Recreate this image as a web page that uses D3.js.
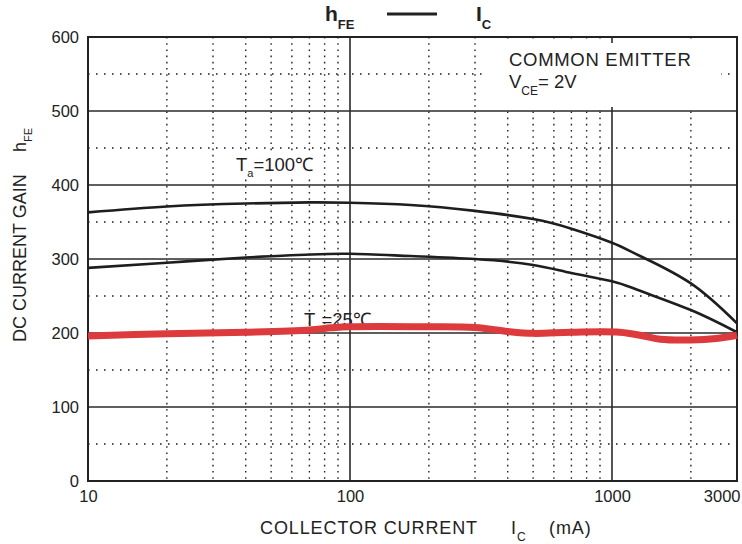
<!DOCTYPE html>
<html>
<head>
<meta charset="utf-8">
<script src="https://cdn.jsdelivr.net/npm/d3@7"></script>
<style>
  body { margin: 0; background: #fff; }
  svg text { font-family: "Liberation Sans", Arial, sans-serif; fill: #222; }
</style>
</head>
<body>
<svg id="chart" width="742" height="544"></svg>
<script>
// hFE vs IC
const xTicks = [10, 100, 1000, 3000];
const yTicks = [0, 100, 200, 300, 400, 500, 600];
const xMajor = [100, 1000];
const xMinor = [20, 30, 40, 50, 60, 70, 80, 90, 200, 300, 400, 500, 600, 700, 800, 900, 2000];
const yMajor = [100, 200, 300, 400, 500];
const yMinor = [50, 150, 250, 350, 450, 550];

// Ta = 100 C
const ic100 = [10, 20, 40, 70, 100, 170, 300, 500, 700, 1000, 1280, 2000, 3000];
const hfe100 = [363, 371, 375, 376.5, 376, 373, 365, 354, 341, 322, 304, 267, 213];

// middle curve (unlabelled)
const icMid = [10, 20, 40, 70, 100, 170, 300, 500, 700, 1000, 1280, 2000, 3000];
const hfeMid = [288, 295, 302, 306, 307, 304, 300, 292, 281, 270, 257, 231, 201];

// Ta = 25 C (red)
const ic25 = [10, 20, 40, 70, 85, 100, 200, 300, 400, 500, 700, 1070, 1320, 1530, 2000, 2500, 3000];
const hfe25 = [196, 199, 201, 204, 207, 208.5, 208.5, 207.5, 202, 199.5, 201, 201, 196, 191.5, 190.5, 192.5, 197];

const margin = { left: 88, top: 37, right: 5, bottom: 63 };
const W = 742, H = 544;

const svg = d3.select('#chart');

const x = d3.scaleLog().domain([10, 3000]).range([margin.left, W - margin.right]);
const y = d3.scaleLinear().domain([0, 600]).range([H - margin.bottom, margin.top]);

const plot = svg.append('g').attr('class', 'plot');

// dotted minor grid
plot.selectAll('line.vminor')
    .data(xMinor)
    .enter()
    .append('line')
    .attr('class', 'vminor')
    .attr('x1', d => x(d)).attr('x2', d => x(d))
    .attr('y1', y(600)).attr('y2', y(0))
    .attr('stroke', '#222')
    .attr('stroke-width', 1.4)
    .attr('stroke-dasharray', '1.6,4.6');

plot.selectAll('line.hminor')
    .data(yMinor)
    .enter()
    .append('line')
    .attr('class', 'hminor')
    .attr('x1', x(10)).attr('x2', x(3000))
    .attr('y1', d => y(d)).attr('y2', d => y(d))
    .attr('stroke', '#222')
    .attr('stroke-width', 1.4)
    .attr('stroke-dasharray', '1.6,6.4');

// solid major grid
plot.selectAll('line.vmajor')
    .data(xMajor)
    .enter()
    .append('line')
    .attr('class', 'vmajor')
    .attr('x1', d => x(d)).attr('x2', d => x(d))
    .attr('y1', y(600)).attr('y2', y(0))
    .attr('stroke', '#2a2a2a')
    .attr('stroke-width', 1.6);

plot.selectAll('line.hmajor')
    .data(yMajor)
    .enter()
    .append('line')
    .attr('class', 'hmajor')
    .attr('x1', x(10)).attr('x2', x(3000))
    .attr('y1', d => y(d)).attr('y2', d => y(d))
    .attr('stroke', '#2a2a2a')
    .attr('stroke-width', 1.6);

// white boxes that hide the grid behind the notes
plot.append('rect')
    .attr('x', 488).attr('y', 43).attr('width', 233).attr('height', 64)
    .attr('fill', '#fff');
plot.append('rect')
    .attr('x', 232).attr('y', 151).attr('width', 90).attr('height', 25)
    .attr('fill', '#fff');

// frame
plot.append('rect')
    .attr('x', x(10)).attr('y', y(600))
    .attr('width', x(3000) - x(10)).attr('height', y(0) - y(600))
    .attr('fill', 'none')
    .attr('stroke', '#222')
    .attr('stroke-width', 2);

// axes (labels only)
const yAxis = svg.append('g')
    .attr('transform', `translate(${margin.left - 9},0)`)
    .call(d3.axisLeft(y).tickValues(yTicks).tickSize(0).tickPadding(0));
yAxis.select('.domain').remove();
yAxis.selectAll('text')
    .style('font-size', '16.5px')
    .attr('dy', '0.36em');

const xAxis = svg.append('g')
    .attr('transform', `translate(0,${H - margin.bottom})`)
    .call(d3.axisBottom(x).tickValues(xTicks).tickFormat(d3.format('d')).tickSize(0).tickPadding(9));
xAxis.select('.domain').remove();
xAxis.selectAll('text')
    .style('font-size', '16.5px')
    .attr('dy', '0.71em');
xAxis.selectAll('.tick')
    .filter(d => d === 3000)
    .select('text')
    .attr('text-anchor', 'end')
    .attr('dx', 3);

// curve labels
const lab100 = svg.append('text')
    .attr('x', 236).attr('y', 171)
    .style('font-size', '18.5px');
lab100.append('tspan').text('T');
lab100.append('tspan').style('font-size', '11px').attr('dy', 6).text('a');
lab100.append('tspan').attr('dy', -6).text('=100\u2103');

const lab25 = svg.append('text')
    .attr('x', 304).attr('y', 326)
    .style('font-size', '18.5px');
lab25.append('tspan').text('T');
lab25.append('tspan').style('font-size', '11px').attr('dy', 6).text('a');
lab25.append('tspan').attr('dy', -6).text('=25\u2103');

// curves
const smooth = d3.line()
    .x(d => x(d[0]))
    .y(d => y(d[1]))
    .curve(d3.curveNatural);

const wobbly = d3.line()
    .x(d => x(d[0]))
    .y(d => y(d[1]))
    .curve(d3.curveCatmullRom.alpha(0.5));

plot.append('path')
    .datum(d3.zip(ic100, hfe100))
    .attr('d', smooth)
    .attr('fill', 'none')
    .attr('stroke', '#1e1e1e')
    .attr('stroke-width', 2.6);

plot.append('path')
    .datum(d3.zip(icMid, hfeMid))
    .attr('d', smooth)
    .attr('fill', 'none')
    .attr('stroke', '#1e1e1e')
    .attr('stroke-width', 2.6);

svg.append('path')
    .datum(d3.zip(ic25, hfe25))
    .attr('d', wobbly)
    .attr('fill', 'none')
    .attr('stroke', '#dc3a3c')
    .attr('stroke-width', 7)
    .attr('stroke-linejoin', 'round');

// note box text
svg.append('text')
    .attr('x', 509).attr('y', 66)
    .style('font-size', '18.5px')
    .attr('letter-spacing', 0.7)
    .text('COMMON EMITTER');
const vce = svg.append('text')
    .attr('x', 509).attr('y', 88)
    .style('font-size', '18.5px');
vce.append('tspan').text('V');
vce.append('tspan').style('font-size', '12px').attr('dy', 7).text('CE');
vce.append('tspan').attr('dy', -7).text('= 2V');

// title
const title = svg.append('text')
    .attr('x', 325).attr('y', 21)
    .style('font-size', '21px')
    .attr('font-weight', 'bold');
title.append('tspan').text('h');
title.append('tspan').style('font-size', '13px').attr('dy', 8).text('FE');
title.append('tspan').attr('x', 476).attr('dy', -8).text('I');
title.append('tspan').style('font-size', '13px').attr('dy', 8).text('C');

svg.append('line')
    .attr('x1', 387).attr('x2', 437)
    .attr('y1', 14).attr('y2', 14)
    .attr('stroke', '#222')
    .attr('stroke-width', 3);

// axis titles
const xt = svg.append('text')
    .attr('x', 260).attr('y', 534)
    .style('font-size', '18px')
    .attr('letter-spacing', 0.9);
xt.append('tspan').text('COLLECTOR CURRENT');
xt.append('tspan').attr('x', 511).text('I');
xt.append('tspan').style('font-size', '12px').attr('dy', 7).text('C');
xt.append('tspan').attr('x', 549).attr('dy', -7).text('(mA)');

const yt = svg.append('text')
    .attr('transform', 'translate(26,342) rotate(-90)')
    .style('font-size', '18px');
yt.append('tspan').text('DC CURRENT GAIN');
yt.append('tspan').attr('x', 190).text('h');
yt.append('tspan').style('font-size', '11px').attr('dy', 6).text('FE');
</script>
</body>
</html>
